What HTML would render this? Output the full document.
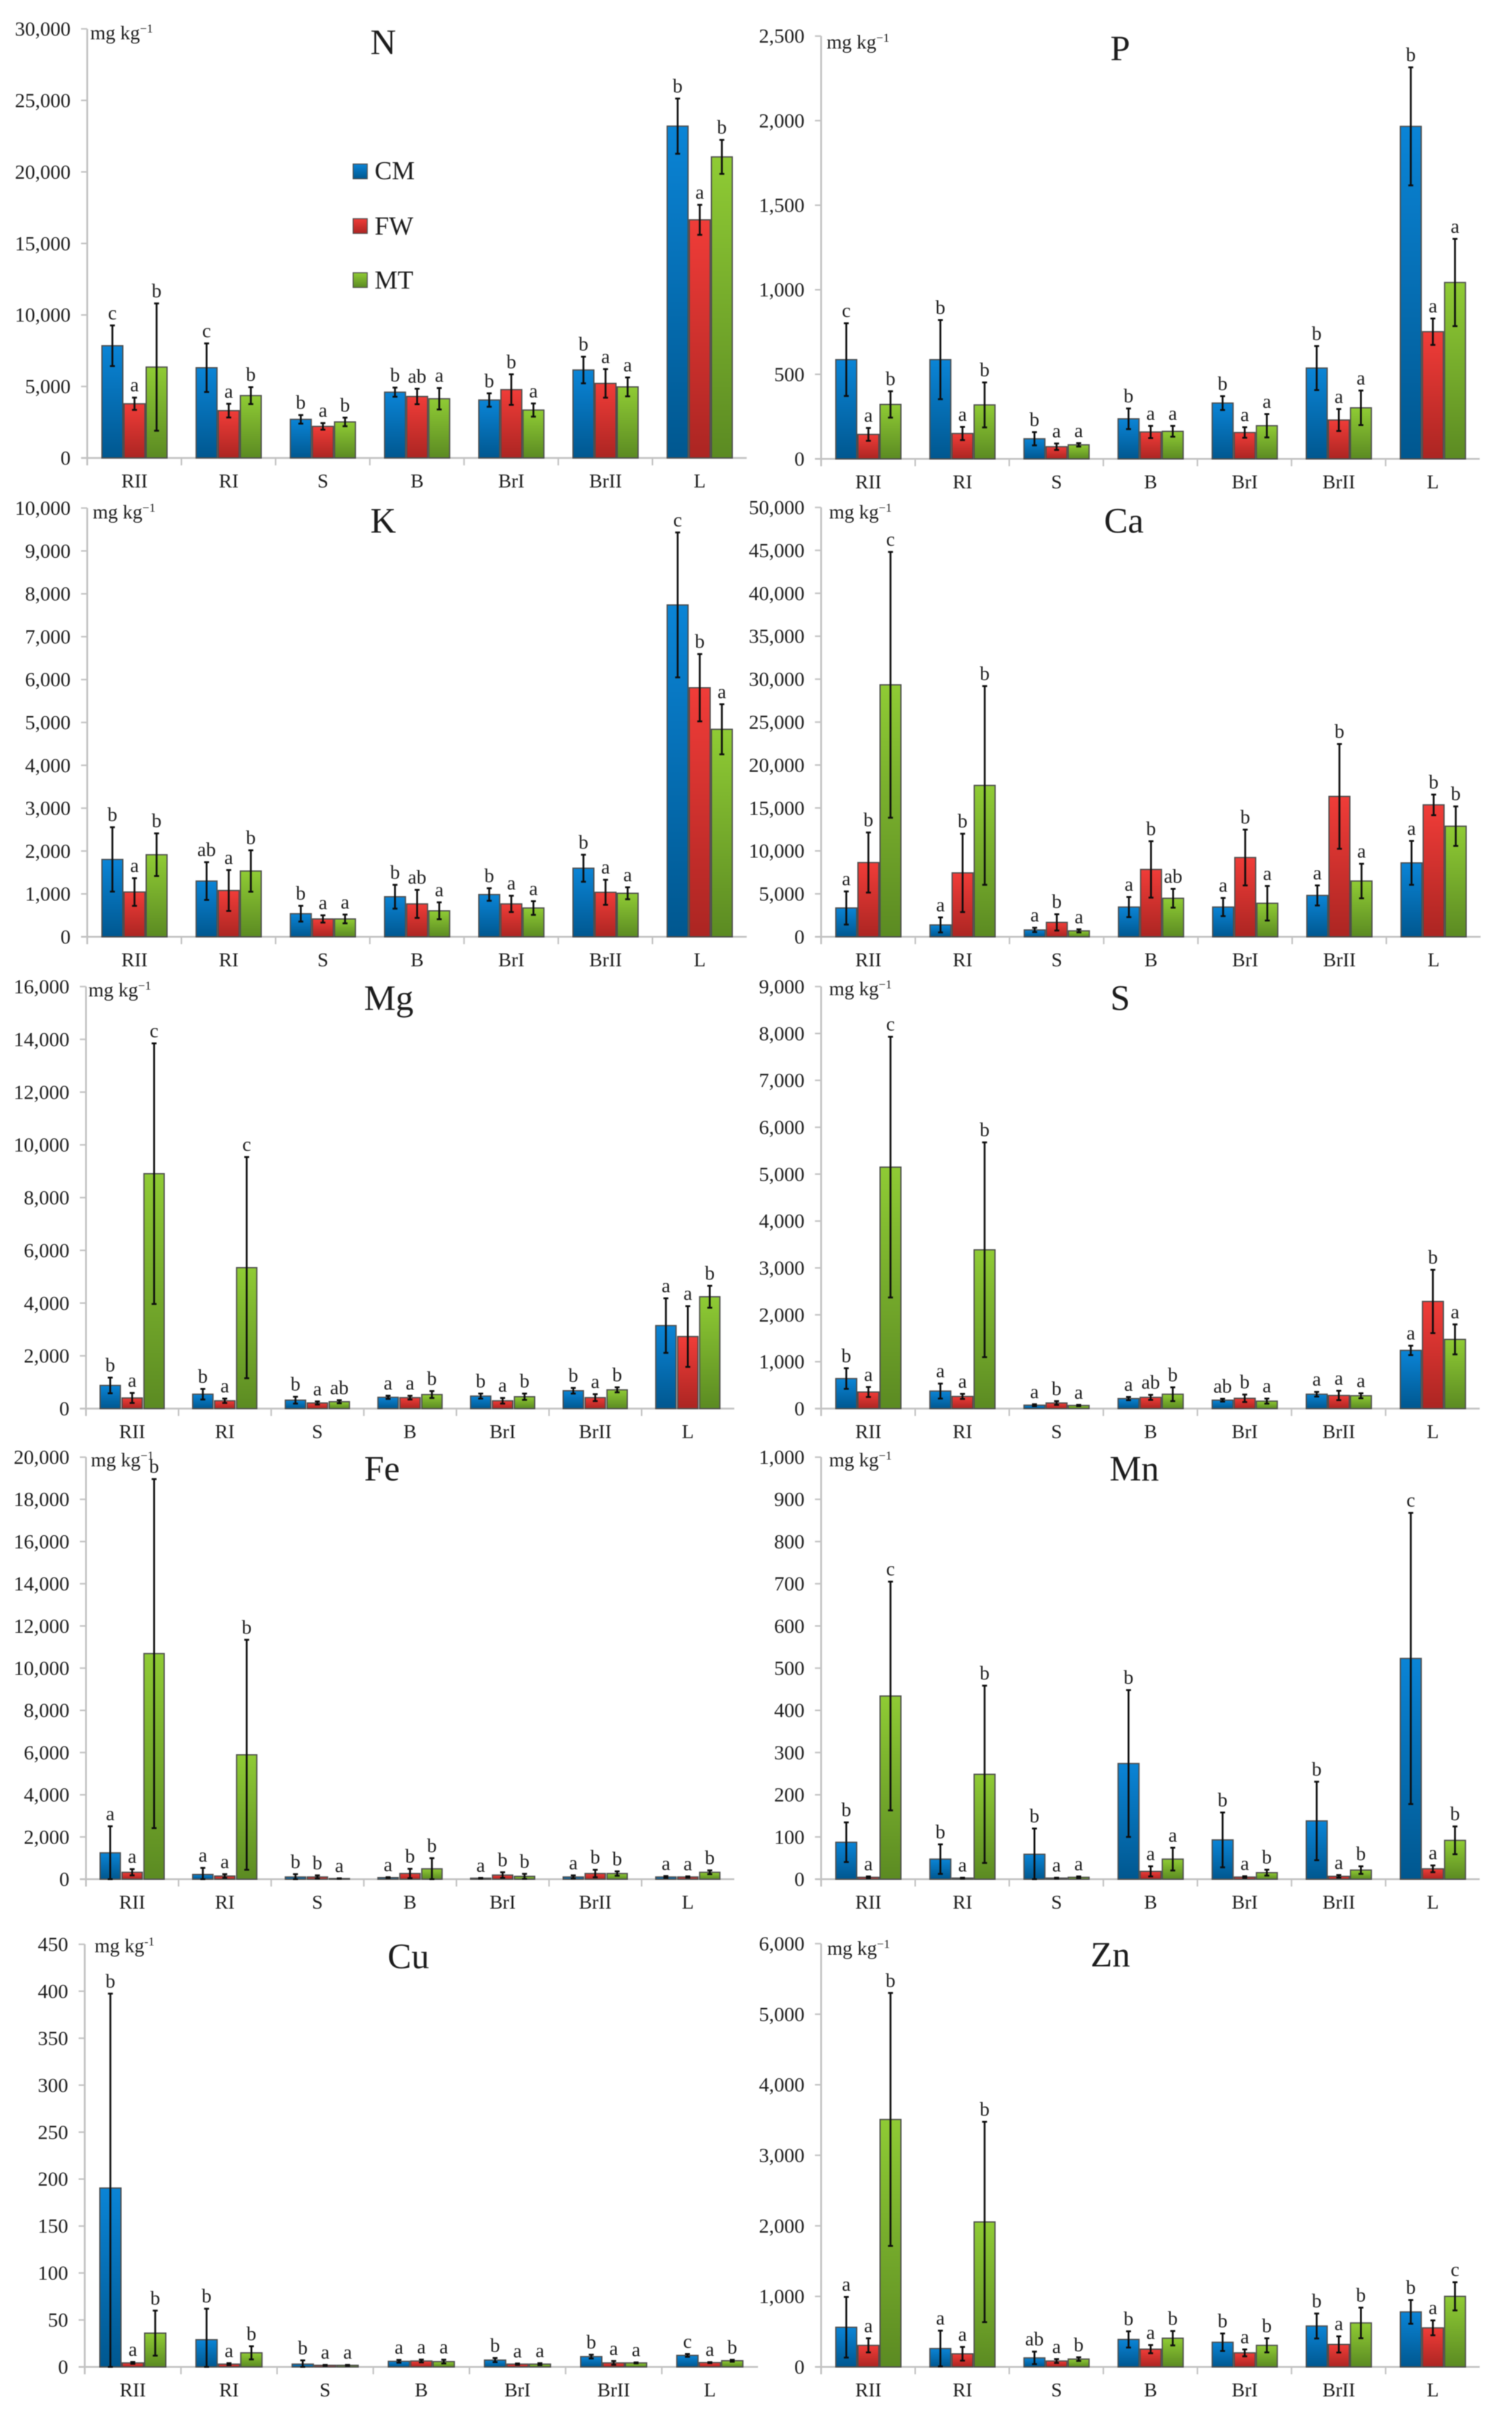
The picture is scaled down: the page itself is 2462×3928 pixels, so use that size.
<!DOCTYPE html>
<html lang="en">
<head>
<meta charset="utf-8">
<title>Element concentrations by plant part and treatment</title>
<style>
html,body{margin:0;padding:0;background:#fff;}
#figure{display:block;width:2462px;height:3928px;filter:blur(0.7px);font-family:"Liberation Serif",serif;}
#figure text{fill:#1c1c1c;}
.title{font-size:58px;text-anchor:middle;fill:#111;}
.unit{font-size:32px;}
.unit tspan{font-size:20px;}
.legend-label{font-size:42px;}
</style>
</head>
<body>
<svg id="figure" xmlns="http://www.w3.org/2000/svg" width="2462" height="3928" viewBox="0 0 2462 3928">
  <defs>
    <linearGradient id="grad-cm" x1="0" y1="0" x2="0" y2="1"><stop offset="0" stop-color="#0a84d6"/><stop offset="1" stop-color="#00578f"/></linearGradient>
    <linearGradient id="grad-fw" x1="0" y1="0" x2="0" y2="1"><stop offset="0" stop-color="#f03c38"/><stop offset="1" stop-color="#ab2522"/></linearGradient>
    <linearGradient id="grad-mt" x1="0" y1="0" x2="0" y2="1"><stop offset="0" stop-color="#8fcb34"/><stop offset="1" stop-color="#5b8a22"/></linearGradient>
  </defs>
  <rect width="2462" height="3928" fill="#ffffff"/>

  <text class="title" x="624" y="88">N</text>
  <text class="title" x="1824" y="98">P</text>
  <text class="title" x="624" y="867">K</text>
  <text class="title" x="1830" y="867">Ca</text>
  <text class="title" x="633" y="1644">Mg</text>
  <text class="title" x="1824" y="1644">S</text>
  <text class="title" x="622" y="2410">Fe</text>
  <text class="title" x="1847" y="2410">Mn</text>
  <text class="title" x="665" y="3204">Cu</text>
  <text class="title" x="1808" y="3201">Zn</text>

  <text class="unit" x="147" y="64">mg kg<tspan dy="-11">−1</tspan></text>
  <text class="unit" x="1346" y="79">mg kg<tspan dy="-11">−1</tspan></text>
  <text class="unit" x="151" y="844">mg kg<tspan dy="-11">−1</tspan></text>
  <text class="unit" x="1350" y="844">mg kg<tspan dy="-11">−1</tspan></text>
  <text class="unit" x="144" y="1622">mg kg<tspan dy="-11">−1</tspan></text>
  <text class="unit" x="1350" y="1620">mg kg<tspan dy="-11">−1</tspan></text>
  <text class="unit" x="148" y="2387">mg kg<tspan dy="-11">−1</tspan></text>
  <text class="unit" x="1350" y="2387">mg kg<tspan dy="-11">−1</tspan></text>
  <text class="unit" x="154" y="3178">mg kg<tspan dy="-11">-1</tspan></text>
  <text class="unit" x="1347" y="3182">mg kg<tspan dy="-11">−1</tspan></text>

  <g id="panels"></g>

  <g>
    <rect x="575" y="267" width="23" height="24" fill="url(#grad-cm)" stroke="#4d4d4d" stroke-width="1.5"/>
    <text class="legend-label" x="610" y="292">CM</text>
    <rect x="575" y="356" width="23" height="24" fill="url(#grad-fw)" stroke="#4d4d4d" stroke-width="1.5"/>
    <text class="legend-label" x="610" y="382">FW</text>
    <rect x="575" y="444" width="23" height="24" fill="url(#grad-mt)" stroke="#4d4d4d" stroke-width="1.5"/>
    <text class="legend-label" x="610" y="470">MT</text>
  </g>
</svg>

<script>
// Shared categories and treatment names
const categories = ['RII','RI','S','B','BrI','BrII','L'];
const seriesNames = ['CM','FW','MT'];

// N
const N_TICKS = [0,5000,10000,15000,20000,25000,30000];
const N_CM = [7845,6310,2700,4600,4050,6150,23200];
const N_FW = [3790,3310,2210,4300,4780,5215,16650];
const N_MT = [6355,4360,2520,4140,3350,4970,21050];
const N_CM_ERR = [1420,1700,300,320,470,930,1930];
const N_FW_ERR = [430,480,230,540,1070,1000,1050];
const N_MT_ERR = [4450,590,300,750,460,660,1190];
const N_CM_SIG = ['c','c','b','b','b','b','b'];
const N_FW_SIG = ['a','a','a','ab','b','a','a'];
const N_MT_SIG = ['b','b','b','a','a','a','b'];

// P
const P_TICKS = [0,500,1000,1500,2000,2500];
const P_CM = [587,587,119,237,330,537,1966];
const P_FW = [145,150,72,159,156,230,752];
const P_MT = [322,319,83,163,196,302,1043];
const P_CM_ERR = [215,234,39,61,41,130,349];
const P_FW_ERR = [38,39,19,36,31,65,78];
const P_MT_ERR = [78,133,10,32,69,102,258];
const P_CM_SIG = ['c','b','b','b','b','b','b'];
const P_FW_SIG = ['a','a','a','a','a','a','a'];
const P_MT_SIG = ['b','b','a','a','a','a','a'];

// K
const K_TICKS = [0,1000,2000,3000,4000,5000,6000,7000,8000,9000,10000];
const K_CM = [1805,1300,540,935,987,1600,7740];
const K_FW = [1045,1080,417,768,768,1038,5810];
const K_MT = [1915,1535,417,607,672,1016,4840];
const K_CM_ERR = [750,440,184,278,146,315,1690];
const K_FW_ERR = [322,477,85,328,190,292,785];
const K_MT_ERR = [497,483,102,197,160,139,584];
const K_CM_SIG = ['b','ab','b','b','b','b','c'];
const K_FW_SIG = ['a','a','a','ab','a','a','b'];
const K_MT_SIG = ['b','b','a','a','a','a','a'];

// Ca
const CA_TICKS = [0,5000,10000,15000,20000,25000,30000,35000,40000,45000,50000];
const CA_CM = [3358,1387,803,3467,3467,4818,8613];
const CA_FW = [8650,7445,1680,7847,9234,16350,15365];
const CA_MT = [29343,17628,693,4489,3905,6496,12883];
const CA_CM_ERR = [1930,876,255,1170,1060,1170,2555];
const CA_FW_ERR = [3500,4560,950,3284,3250,6100,1200];
const CA_MT_ERR = [15475,11570,180,1095,2010,2010,2300];
const CA_CM_SIG = ['a','a','a','a','a','a','a'];
const CA_FW_SIG = ['b','b','b','b','b','b','b'];
const CA_MT_SIG = ['c','b','a','ab','a','a','b'];

// Mg
const MG_TICKS = [0,2000,4000,6000,8000,10000,12000,14000,16000];
const MG_CM = [879,546,320,428,475,677,3147];
const MG_FW = [404,297,214,416,297,416,2732];
const MG_MT = [8907,5344,261,534,451,712,4240];
const MG_CM_ERR = [297,200,130,60,95,107,1034];
const MG_FW_ERR = [190,83,59,70,107,130,1152];
const MG_MT_ERR = [4940,4193,59,131,119,96,416];
const MG_CM_SIG = ['b','b','b','a','b','b','a'];
const MG_FW_SIG = ['a','a','a','a','a','a','a'];
const MG_MT_SIG = ['c','c','ab','b','b','b','b'];

// S
const S_TICKS = [0,1000,2000,3000,4000,5000,6000,7000,8000,9000];
const S_CM = [641,374,73,214,180,307,1242];
const S_FW = [354,260,120,240,220,280,2285];
const S_MT = [5150,3387,67,307,160,274,1476];
const S_CM_ERR = [220,160,20,35,30,50,100];
const S_FW_ERR = [107,54,40,54,80,100,675];
const S_MT_ERR = [2780,2290,13,147,54,53,320];
const S_CM_SIG = ['b','a','a','a','ab','a','a'];
const S_FW_SIG = ['a','a','b','ab','b','a','b'];
const S_MT_SIG = ['c','b','a','b','a','a','a'];

// Fe
const FE_TICKS = [0,2000,4000,6000,8000,10000,12000,14000,16000,18000,20000];
const FE_CM = [1247,223,104,74,45,104,104];
const FE_FW = [327,148,104,267,193,267,104];
const FE_MT = [10690,5895,30,490,134,267,327];
const FE_CM_ERR = [1260,312,134,20,15,74,45];
const FE_FW_ERR = [148,90,75,223,134,178,30];
const FE_MT_ERR = [8270,5450,10,505,118,104,89];
const FE_CM_SIG = ['a','a','b','a','a','a','a'];
const FE_FW_SIG = ['a','a','b','b','b','b','a'];
const FE_MT_SIG = ['b','b','a','b','b','b','b'];

// Mn
const MN_TICKS = [0,100,200,300,400,500,600,700,800,900,1000];
const MN_CM = [87.5,47.5,59,274,93,138,523];
const MN_FW = [4.5,2.5,2.5,18.5,5,6.7,24.5];
const MN_MT = [434,248.5,4.5,47.5,15.5,21.5,92];
const MN_CM_ERR = [47,35,61,174,65,93,345];
const MN_FW_ERR = [2,1,1,12,2,3,8];
const MN_MT_ERR = [271,210,2,27,7,9,33];
const MN_CM_SIG = ['b','b','b','b','b','b','c'];
const MN_FW_SIG = ['a','a','a','a','a','a','a'];
const MN_MT_SIG = ['c','b','a','a','b','b','b'];

// Cu
const CU_TICKS = [0,50,100,150,200,250,300,350,400,450];
const CU_CM = [190.5,29,3,6,7.3,11,12.3];
const CU_FW = [4.3,3,1.7,6.3,3,4.3,4.6];
const CU_MT = [36,15,1.7,5.7,3,4.3,6.6];
const CU_CM_ERR = [207,33,4,1.5,2.2,2,1.5];
const CU_FW_ERR = [1,1,0.5,1.5,0.7,2,0.5];
const CU_MT_ERR = [24,7,0.5,2,1,0.5,1];
const CU_CM_SIG = ['b','b','b','a','b','b','c'];
const CU_FW_SIG = ['a','a','a','a','a','a','a'];
const CU_MT_SIG = ['b','b','a','a','a','a','b'];

// Zn
const ZN_TICKS = [0,1000,2000,3000,4000,5000,6000];
const ZN_CM = [562,261,128,390,350,580,780];
const ZN_FW = [306,186,84,252,199,319,554];
const ZN_MT = [3508,2055,111,407,306,624,1001];
const ZN_CM_ERR = [430,253,89,115,124,177,168];
const ZN_FW_ERR = [100,97,27,58,49,115,106];
const ZN_MT_ERR = [1793,1420,26,102,100,217,200];
const ZN_CM_SIG = ['a','a','ab','b','b','b','b'];
const ZN_FW_SIG = ['a','a','a','a','a','a','a'];
const ZN_MT_SIG = ['b','b','b','b','b','b','c'];

// Panels: link each panel's data arrays to its plot frame
const panels = [
  {id:'n',  ticks:N_TICKS,  vals:[N_CM,N_FW,N_MT],    errs:[N_CM_ERR,N_FW_ERR,N_MT_ERR],    sigs:[N_CM_SIG,N_FW_SIG,N_MT_SIG],    frame:{left:142,  step:153.4, top:47,   bottom:745.5, off:24,   pitch:36,   w:34}},
  {id:'p',  ticks:P_TICKS,  vals:[P_CM,P_FW,P_MT],    errs:[P_CM_ERR,P_FW_ERR,P_MT_ERR],    sigs:[P_CM_SIG,P_FW_SIG,P_MT_SIG],    frame:{left:1337, step:153.2, top:58.7, bottom:747,   off:24,   pitch:36,   w:34}},
  {id:'k',  ticks:K_TICKS,  vals:[K_CM,K_FW,K_MT],    errs:[K_CM_ERR,K_FW_ERR,K_MT_ERR],    sigs:[K_CM_SIG,K_FW_SIG,K_MT_SIG],    frame:{left:142,  step:153.4, top:827,  bottom:1525,  off:24,   pitch:36,   w:34}},
  {id:'ca', ticks:CA_TICKS, vals:[CA_CM,CA_FW,CA_MT], errs:[CA_CM_ERR,CA_FW_ERR,CA_MT_ERR], sigs:[CA_CM_SIG,CA_FW_SIG,CA_MT_SIG], frame:{left:1337, step:153.4, top:826,  bottom:1525,  off:24,   pitch:36,   w:34}},
  {id:'mg', ticks:MG_TICKS, vals:[MG_CM,MG_FW,MG_MT], errs:[MG_CM_ERR,MG_FW_ERR,MG_MT_ERR], sigs:[MG_CM_SIG,MG_FW_SIG,MG_MT_SIG], frame:{left:140,  step:150.8, top:1606, bottom:2293,  off:23,   pitch:35.7, w:33}},
  {id:'s',  ticks:S_TICKS,  vals:[S_CM,S_FW,S_MT],    errs:[S_CM_ERR,S_FW_ERR,S_MT_ERR],    sigs:[S_CM_SIG,S_FW_SIG,S_MT_SIG],    frame:{left:1337, step:153.2, top:1606, bottom:2293,  off:24,   pitch:36,   w:34}},
  {id:'fe', ticks:FE_TICKS, vals:[FE_CM,FE_FW,FE_MT], errs:[FE_CM_ERR,FE_FW_ERR,FE_MT_ERR], sigs:[FE_CM_SIG,FE_FW_SIG,FE_MT_SIG], frame:{left:140,  step:150.8, top:2372, bottom:3059,  off:23,   pitch:35.7, w:33}},
  {id:'mn', ticks:MN_TICKS, vals:[MN_CM,MN_FW,MN_MT], errs:[MN_CM_ERR,MN_FW_ERR,MN_MT_ERR], sigs:[MN_CM_SIG,MN_FW_SIG,MN_MT_SIG], frame:{left:1337, step:153.2, top:2372, bottom:3059,  off:24,   pitch:36,   w:34}},
  {id:'cu', ticks:CU_TICKS, vals:[CU_CM,CU_FW,CU_MT], errs:[CU_CM_ERR,CU_FW_ERR,CU_MT_ERR], sigs:[CU_CM_SIG,CU_FW_SIG,CU_MT_SIG], frame:{left:138,  step:156.6, top:3165, bottom:3853,  off:24.5, pitch:36.5, w:34.5}},
  {id:'zn', ticks:ZN_TICKS, vals:[ZN_CM,ZN_FW,ZN_MT], errs:[ZN_CM_ERR,ZN_FW_ERR,ZN_MT_ERR], sigs:[ZN_CM_SIG,ZN_FW_SIG,ZN_MT_SIG], frame:{left:1337, step:153.2, top:3164, bottom:3853,  off:24,   pitch:36,   w:34}}
];

const SVG_NS = 'http://www.w3.org/2000/svg';
const AXIS_COLOR = '#c2c2c2';
const GRADS = ['url(#grad-cm)','url(#grad-fw)','url(#grad-mt)'];

function make(tag, parent) {
  const el = document.createElementNS(SVG_NS, tag);
  parent.appendChild(el);
  return el;
}

function line(parent, x1, y1, x2, y2, color, width) {
  const el = make('line', parent);
  el.setAttribute('x1', x1);
  el.setAttribute('y1', y1);
  el.setAttribute('x2', x2);
  el.setAttribute('y2', y2);
  el.setAttribute('stroke', color);
  el.setAttribute('stroke-width', width);
  return el;
}

function label(parent, x, y, size, anchor, content) {
  const el = make('text', parent);
  el.setAttribute('x', x);
  el.setAttribute('y', y);
  el.setAttribute('font-size', size);
  el.setAttribute('text-anchor', anchor);
  el.textContent = content;
  return el;
}

function drawPanel(panel) {
  const root = document.getElementById('panels');
  const f = panel.frame;
  const maxValue = panel.ticks[panel.ticks.length - 1];
  const yScale = function (v) { return f.bottom - (Math.max(v, 0) / maxValue) * (f.bottom - f.top); };
  const groupX = function (i) { return f.left + i * f.step; };
  const barX = function (i, s) { return groupX(i) + f.off + s * f.pitch; };

  const g = make('g', root);
  
  

  // Y axis
  const yAxis = line(g, f.left, f.top, f.left, f.bottom + 12, AXIS_COLOR, 3);
  
  

  panel.ticks.forEach(function (t) {
    const y = yScale(t);
    const mark = line(g, f.left - 10, y, f.left, y, AXIS_COLOR, 2.5);
    
    
    const txt = label(g, f.left - 27, y + 11, 33, 'end', t.toLocaleString('en-US'));
    
    
  });

  // X axis
  const xAxis = line(g, f.left - 10, f.bottom, f.left + 7 * f.step, f.bottom, AXIS_COLOR, 3);
  
  

  categories.forEach(function (cat, i) {
    const mark = line(g, groupX(i), f.bottom, groupX(i), f.bottom + 12, AXIS_COLOR, 2.5);
    
    
    const txt = label(g, barX(i, 1) + f.w / 2, f.bottom + 48, 32, 'middle', cat);
    
    
  });

  // Bars
  seriesNames.forEach(function (name, s) {
    categories.forEach(function (cat, i) {
      const value = panel.vals[s][i];
      const bar = make('rect', g);
      bar.setAttribute('x', barX(i, s));
      bar.setAttribute('y', yScale(value));
      bar.setAttribute('width', f.w);
      bar.setAttribute('height', f.bottom - yScale(value));
      bar.setAttribute('fill', GRADS[s]);
      bar.setAttribute('stroke', '#4d4d4d');
      bar.setAttribute('stroke-width', 2);
      
      
    });
  });

  // Error bars and significance letters
  seriesNames.forEach(function (name, s) {
    categories.forEach(function (cat, i) {
      const value = panel.vals[s][i];
      const err = panel.errs[s][i];
      const cx = barX(i, s) + f.w / 2;
      const yHi = yScale(value + err);
      const yLo = yScale(value - err);

      const stem = line(g, cx, yHi, cx, yLo, '#0d0d0d', 3);
      
      

      const capHi = line(g, cx - 4, yHi, cx + 4, yHi, '#0d0d0d', 3);
      
      

      const capLo = line(g, cx - 4, yLo, cx + 4, yLo, '#0d0d0d', 3);
      
      

      const sig = label(g, cx, yHi - 10, 32, 'middle', panel.sigs[s][i]);
      
      
    });
  });
}

panels.forEach(drawPanel);
</script>
</body>
</html>
